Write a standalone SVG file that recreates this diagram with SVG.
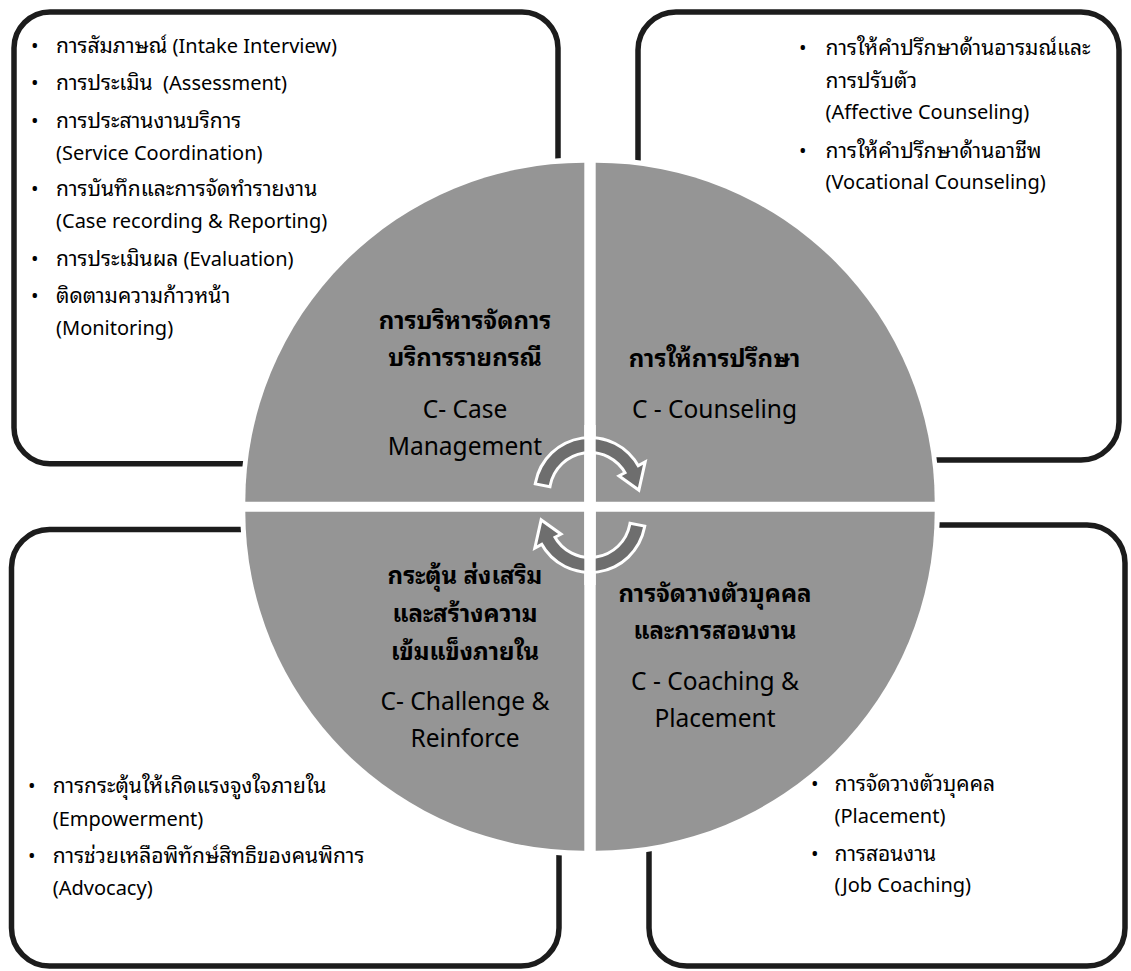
<svg xmlns="http://www.w3.org/2000/svg" width="1131" height="971" viewBox="0 0 1131 971">
<style>
.box{fill:none;stroke:#1c1c1c;stroke-width:5.5}
.sec{fill:#959595}
.arr{fill:#6e6e6e;stroke:#fff;stroke-width:6;paint-order:stroke;stroke-linejoin:miter}
text{font-family:"Noto Sans","Noto Sans Thai Looped","Noto Sans Thai","DejaVu Sans",sans-serif;fill:#000}
.b{font-size:20px}
.th{font-size:21px}
.h{font-size:24px;font-weight:bold;text-anchor:middle}
.c{font-size:24.5px;text-anchor:middle}
</style>
<defs>
<path id="arrow-shape" d="M537 482.7 A54 54 0 0 1 637.7 467.7 L643 464.8 L637.9 487.6 L621.8 476.1 L627.1 473.3 A42 42 0 0 0 548.8 485 Z"/>
</defs>
<rect width="1131" height="971" fill="#fff"/>
<g id="box-case-management"><rect class="box" x="14" y="12" width="544" height="451.7" rx="36"/></g>
<g id="box-counseling"><rect class="box" x="638" y="12" width="481" height="448" rx="38"/></g>
<g id="box-challenge"><rect class="box" x="11.5" y="529.5" width="547.5" height="436.5" rx="38"/></g>
<g id="box-coaching"><rect class="box" x="649" y="525" width="476" height="441" rx="38"/></g>
<circle cx="590" cy="506.7" r="350" fill="#fff"/>
<g id="sector-case-management"><path class="sec" d="M584.3 501.7 L245.3 501.7 A339 339 0 0 1 584.3 162.7 Z"/></g>
<g id="sector-counseling"><path class="sec" d="M595.7 501.7 L595.7 162.7 A339 339 0 0 1 934.7 501.7 Z"/></g>
<g id="sector-coaching"><path class="sec" d="M595.7 511.7 L934.7 511.7 A339 339 0 0 1 595.7 850.7 Z"/></g>
<g id="sector-challenge"><path class="sec" d="M584.3 511.7 L584.3 850.7 A339 339 0 0 1 245.3 511.7 Z"/></g>
<g id="connectors">
<use id="arrow-top" class="arr" href="#arrow-shape"/>
<use id="arrow-bottom" class="arr" href="#arrow-shape" transform="rotate(180 590 505)"/>
<rect x="584.3" y="425" width="11.4" height="160" fill="#fff"/>
</g>
<g id="text-case-management">
<text class="b" x="31" y="53">•</text><text class="b" x="56" y="53"><tspan class="th">การสัมภาษณ์</tspan> (Intake Interview)</text>
<text class="b" x="31" y="90">•</text><text class="b" x="56" y="90" xml:space="preserve"><tspan class="th">การประเมิน</tspan>  (Assessment)</text>
<text class="b" x="31" y="128">•</text><text class="b th" x="56" y="128">การประสานงานบริการ</text>
<text class="b" x="56" y="160">(Service Coordination)</text>
<text class="b" x="31" y="196">•</text><text class="b th" x="56" y="196">การบันทึกและการจัดทำรายงาน</text>
<text class="b" x="56" y="228">(Case recording &amp; Reporting)</text>
<text class="b" x="31" y="266">•</text><text class="b" x="56" y="266"><tspan class="th">การประเมินผล</tspan> (Evaluation)</text>
<text class="b" x="31" y="303">•</text><text class="b th" x="56" y="303">ติดตามความก้าวหน้า</text>
<text class="b" x="56" y="335">(Monitoring)</text>
<text class="h" x="465" y="329">การบริหารจัดการ</text>
<text class="h" x="465" y="366">บริการรายกรณี</text>
<text class="c" x="465" y="418">C- Case</text>
<text class="c" x="465" y="455">Management</text>
</g>
<g id="text-counseling">
<text class="b" x="799" y="55">•</text><text class="b th" x="825.5" y="55">การให้คำปรึกษาด้านอารมณ์และ</text>
<text class="b th" x="825.5" y="88">การปรับตัว</text>
<text class="b" x="825.5" y="119">(Affective Counseling)</text>
<text class="b" x="799" y="158">•</text><text class="b th" x="825.5" y="158">การให้คำปรึกษาด้านอาชีพ</text>
<text class="b" x="825.5" y="189">(Vocational Counseling)</text>
<text class="h" x="714.5" y="367">การให้การปรึกษา</text>
<text class="c" x="714.5" y="418">C - Counseling</text>
</g>
<g id="text-challenge">
<text class="h" x="465" y="584">กระตุ้น ส่งเสริม</text>
<text class="h" x="465" y="622">และสร้างความ</text>
<text class="h" x="465" y="660">เข้มแข็งภายใน</text>
<text class="c" x="465" y="710">C- Challenge &amp;</text>
<text class="c" x="465" y="747">Reinforce</text>
<text class="b" x="28" y="793">•</text><text class="b th" x="52.7" y="793">การกระตุ้นให้เกิดแรงจูงใจภายใน</text>
<text class="b" x="52.7" y="826">(Empowerment)</text>
<text class="b" x="28" y="863">•</text><text class="b th" x="52.7" y="863">การช่วยเหลือพิทักษ์สิทธิของคนพิการ</text>
<text class="b" x="52.7" y="895">(Advocacy)</text>
</g>
<g id="text-coaching">
<text class="h" x="715" y="602">การจัดวางตัวบุคคล</text>
<text class="h" x="715" y="639">และการสอนงาน</text>
<text class="c" x="715" y="690">C - Coaching &amp;</text>
<text class="c" x="715" y="727">Placement</text>
<text class="b" x="811" y="791">•</text><text class="b th" x="834.5" y="791">การจัดวางตัวบุคคล</text>
<text class="b" x="834.5" y="823">(Placement)</text>
<text class="b" x="811" y="861">•</text><text class="b th" x="834.5" y="861">การสอนงาน</text>
<text class="b" x="834.5" y="892">(Job Coaching)</text>
</g>
</svg>
